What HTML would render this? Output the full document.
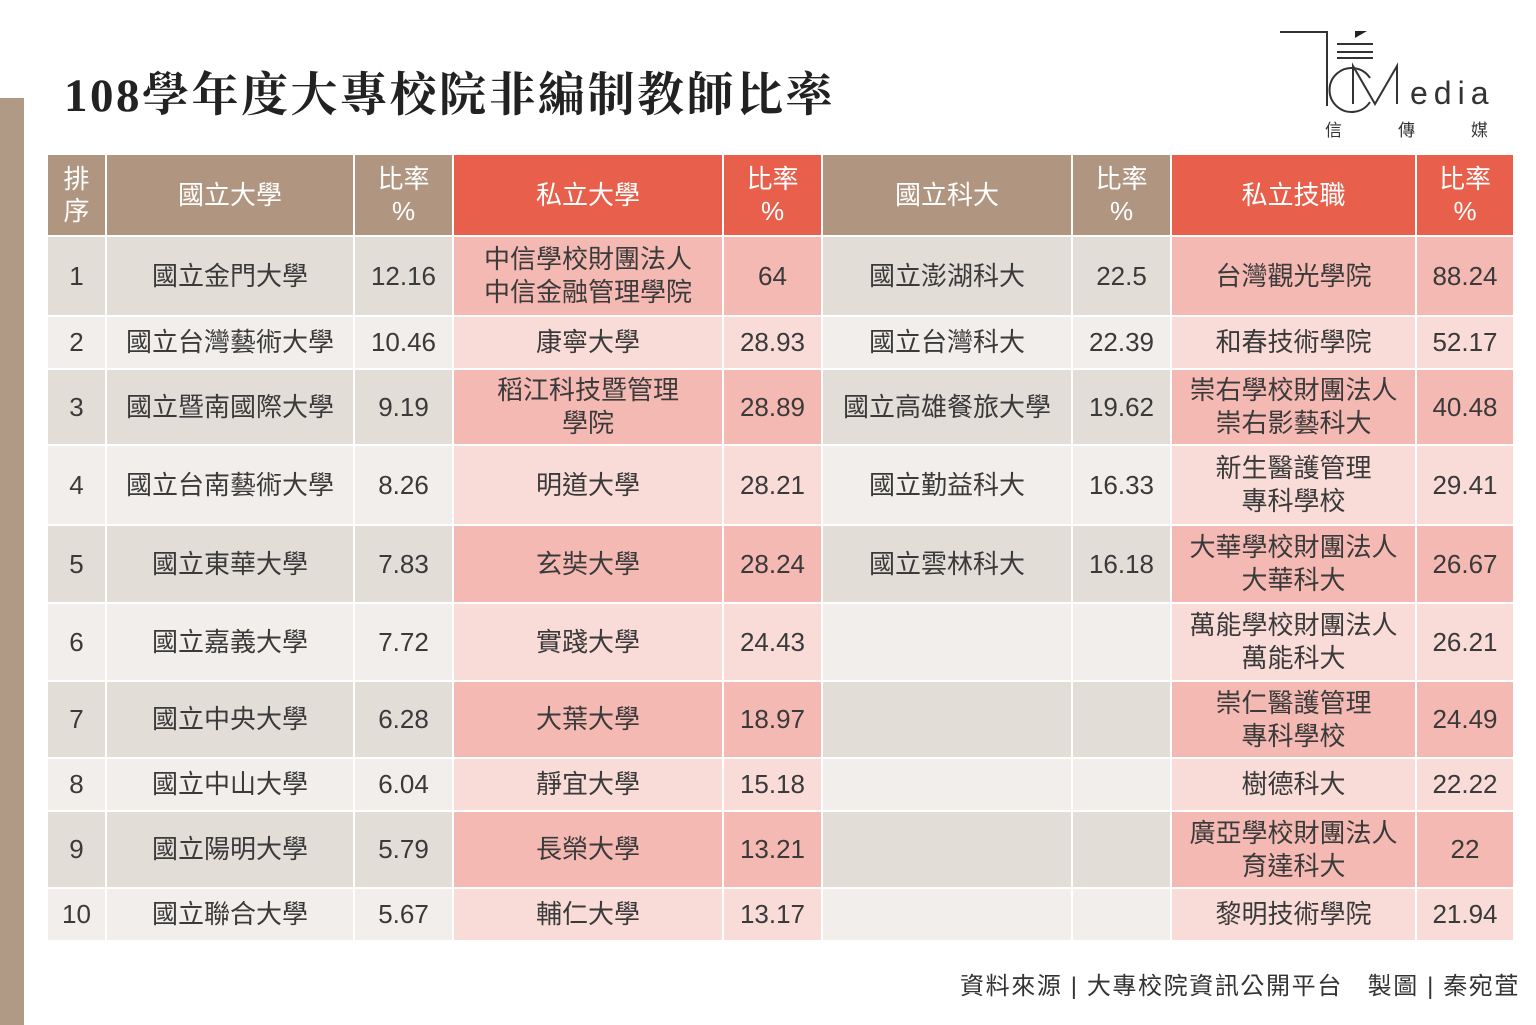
<!DOCTYPE html><html><head><meta charset="utf-8"><style>
body{margin:0;width:1536px;height:1025px;background:#fff;position:relative;overflow:hidden;font-family:"Liberation Sans","Noto Sans CJK TC",sans-serif;}
.bar{position:absolute;left:0;top:98px;width:24px;height:927px;background:#b09a86;}
h1{position:absolute;left:64px;top:58px;margin:0;font-family:"Liberation Serif","Noto Serif CJK SC",serif;font-weight:bold;font-size:47px;color:#222;letter-spacing:2.5px;}
table{position:absolute;left:46px;top:153px;border-collapse:separate;border-spacing:2px;}
td{text-align:center;color:#3a3a3a;font-size:26px;line-height:33px;padding:0;}
th{color:#fff;font-weight:normal;font-size:26px;line-height:32px;height:80px;padding:0;}
.b{background:#b09680}.r{background:#e8604c}
.o .g{background:#e3ddd8}.o .p{background:#f4b9b3}
.e .g{background:#f2eeeb}.e .p{background:#f9dcd8}
.foot{position:absolute;right:16px;top:966px;font-size:24px;color:#333;white-space:pre;letter-spacing:1.6px;}
</style></head><body>
<div class="bar"></div>
<h1>108學年度大專校院非編制教師比率</h1>
<svg style="position:absolute;left:1275px;top:28px" width="260" height="120">
<polyline points="5,4 52,4 52,78" fill="none" stroke="#333" stroke-width="2"/>
<polygon points="80,3 92,3 80,10" fill="#222"/>
<line x1="62" y1="16" x2="98" y2="16" stroke="#333" stroke-width="2"/>
<line x1="62" y1="24" x2="98" y2="24" stroke="#333" stroke-width="2"/>
<line x1="62" y1="30" x2="98" y2="30" stroke="#333" stroke-width="2"/>
<path d="M95,50 A22,22 0 1,0 95,74" fill="none" stroke="#333" stroke-width="2"/>
<polyline points="78,76 78,38 100,76 122,38 122,76" fill="none" stroke="#333" stroke-width="2"/>
<text x="135" y="76" font-size="32" fill="#333" letter-spacing="6" font-family="Liberation Sans,sans-serif">edia</text>
<text x="50" y="108" font-size="17" fill="#333" font-family="Noto Sans CJK TC,sans-serif">信</text>
<text x="123" y="108" font-size="17" fill="#333" font-family="Noto Sans CJK TC,sans-serif">傳</text>
<text x="196" y="108" font-size="17" fill="#333" font-family="Noto Sans CJK TC,sans-serif">媒</text>
</svg>
<table>
<tr><th class="b" style="width:57px">排<br>序</th><th class="b" style="width:246px">國立大學</th><th class="b" style="width:97px">比率<br>%</th><th class="r" style="width:268px">私立大學</th><th class="r" style="width:97px">比率<br>%</th><th class="b" style="width:248px">國立科大</th><th class="b" style="width:97px">比率<br>%</th><th class="r" style="width:243px">私立技職</th><th class="r" style="width:96px">比率<br>%</th></tr>
<tr class="o" style="height:78px"><td class="g">1</td><td class="g">國立金門大學</td><td class="g">12.16</td><td class="p">中信學校財團法人<br>中信金融管理學院</td><td class="p">64</td><td class="g">國立澎湖科大</td><td class="g">22.5</td><td class="p">台灣觀光學院</td><td class="p">88.24</td></tr>
<tr class="e" style="height:51px"><td class="g">2</td><td class="g">國立台灣藝術大學</td><td class="g">10.46</td><td class="p">康寧大學</td><td class="p">28.93</td><td class="g">國立台灣科大</td><td class="g">22.39</td><td class="p">和春技術學院</td><td class="p">52.17</td></tr>
<tr class="o" style="height:74px"><td class="g">3</td><td class="g">國立暨南國際大學</td><td class="g">9.19</td><td class="p">稻江科技暨管理<br>學院</td><td class="p">28.89</td><td class="g">國立高雄餐旅大學</td><td class="g">19.62</td><td class="p">崇右學校財團法人<br>崇右影藝科大</td><td class="p">40.48</td></tr>
<tr class="e" style="height:78px"><td class="g">4</td><td class="g">國立台南藝術大學</td><td class="g">8.26</td><td class="p">明道大學</td><td class="p">28.21</td><td class="g">國立勤益科大</td><td class="g">16.33</td><td class="p">新生醫護管理<br>專科學校</td><td class="p">29.41</td></tr>
<tr class="o" style="height:76px"><td class="g">5</td><td class="g">國立東華大學</td><td class="g">7.83</td><td class="p">玄奘大學</td><td class="p">28.24</td><td class="g">國立雲林科大</td><td class="g">16.18</td><td class="p">大華學校財團法人<br>大華科大</td><td class="p">26.67</td></tr>
<tr class="e" style="height:76px"><td class="g">6</td><td class="g">國立嘉義大學</td><td class="g">7.72</td><td class="p">實踐大學</td><td class="p">24.43</td><td class="g"></td><td class="g"></td><td class="p">萬能學校財團法人<br>萬能科大</td><td class="p">26.21</td></tr>
<tr class="o" style="height:75px"><td class="g">7</td><td class="g">國立中央大學</td><td class="g">6.28</td><td class="p">大葉大學</td><td class="p">18.97</td><td class="g"></td><td class="g"></td><td class="p">崇仁醫護管理<br>專科學校</td><td class="p">24.49</td></tr>
<tr class="e" style="height:51px"><td class="g">8</td><td class="g">國立中山大學</td><td class="g">6.04</td><td class="p">靜宜大學</td><td class="p">15.18</td><td class="g"></td><td class="g"></td><td class="p">樹德科大</td><td class="p">22.22</td></tr>
<tr class="o" style="height:75px"><td class="g">9</td><td class="g">國立陽明大學</td><td class="g">5.79</td><td class="p">長榮大學</td><td class="p">13.21</td><td class="g"></td><td class="g"></td><td class="p">廣亞學校財團法人<br>育達科大</td><td class="p">22</td></tr>
<tr class="e" style="height:51px"><td class="g">10</td><td class="g">國立聯合大學</td><td class="g">5.67</td><td class="p">輔仁大學</td><td class="p">13.17</td><td class="g"></td><td class="g"></td><td class="p">黎明技術學院</td><td class="p">21.94</td></tr>
</table>
<div class="foot">資料來源 | 大專校院資訊公開平台   製圖 | 秦宛萓</div>
</body></html>
